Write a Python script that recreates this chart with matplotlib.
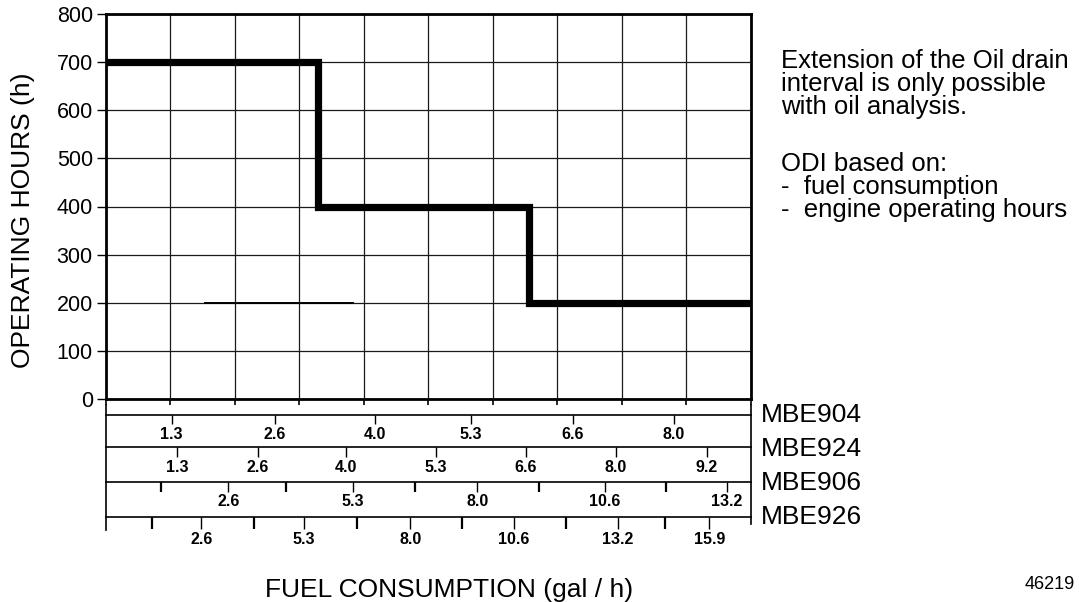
"""
Oil drain interval chart: operating hours vs fuel consumption, with
engine-specific fuel consumption scales below the grid.
"""

import matplotlib
matplotlib.use('Agg')
import matplotlib.pyplot as plt

plt.rcParams['font.family'] = ['Liberation Sans', 'DejaVu Sans']

# Step curve (x in grid columns, 0..10)
step_edges = [0, 3.29, 6.57, 10]
step_hours = [700, 400, 200]
y_ticks = list(range(0, 801, 100))

# Engine fuel consumption scales (tick position in grid columns, label)
mbe904_pos = [1.02, 2.62, 4.17, 5.66, 7.24, 8.81]
mbe904_lab = ['1.3', '2.6', '4.0', '5.3', '6.6', '8.0']

mbe924_pos = [1.10, 2.36, 3.73, 5.12, 6.51, 7.91, 9.32]
mbe924_lab = ['1.3', '2.6', '4.0', '5.3', '6.6', '8.0', '9.2']

mbe906_pos = [1.90, 3.83, 5.76, 7.74, 9.63]
mbe906_lab = ['2.6', '5.3', '8.0', '10.6', '13.2']
mbe906_minor = [0.85, 2.79, 4.79, 6.72, 8.69]

mbe926_pos = [1.48, 3.07, 4.72, 6.33, 7.94, 9.36]
mbe926_lab = ['2.6', '5.3', '8.0', '10.6', '13.2', '15.9']
mbe926_minor = [0.71, 2.29, 3.90, 5.53, 7.14, 8.67]

engines = ['MBE904', 'MBE924', 'MBE906', 'MBE926']

note_lines = ['Extension of the Oil drain',
              'interval is only possible',
              'with oil analysis.']
odi_lines = ['ODI based on:',
             '-  fuel consumption',
             '-  engine operating hours']

W, H = 1079, 602
fig = plt.figure(figsize=(W / 100, H / 100), dpi=100)

# main grid, pixel box 106..750 x 14..399
ax_left, ax_right, ax_top, ax_bot = 106, 750.5, 14, 399
ax = fig.add_axes([ax_left / W, 1 - ax_bot / H,
                   (ax_right - ax_left) / W, (ax_bot - ax_top) / H])
ax.set_xlim(0, 10)
ax.set_ylim(0, 800)
ax.set_xticks(range(11))
ax.set_yticks(y_ticks)
ax.grid(True, color='#1a1a1a', linewidth=0.9)
ax.set_axisbelow(True)
ax.tick_params(axis='x', length=4.5, width=1.2, labelbottom=False, color='black')
ax.tick_params(axis='y', length=6.5, width=1.0, labelsize=15.5, pad=3)
for sp in ax.spines.values():
    sp.set_linewidth(2.0)

# short darker segment along the 200 line
ax.plot([1.53, 3.83], [200, 200], color='black', linewidth=1.4)

ax.stairs(step_hours, step_edges, baseline=None, color='black',
          linewidth=5.2, zorder=5)

# engine scales as secondary axes below the grid
px_h = ax_bot - ax_top


def to_axes_y(ypx):
    return (ax_bot - ypx) / px_h


scales = [
    (415, mbe904_pos, mbe904_lab, None, 6.5),
    (447, mbe924_pos, mbe924_lab, None, 7.0),
    (481.5, mbe906_pos, mbe906_lab, mbe906_minor, 7.0),
    (517, mbe926_pos, mbe926_lab, mbe926_minor, 8.5),
]
for ypx, pos, lab, minor, tlen in scales:
    sec = ax.secondary_xaxis(to_axes_y(ypx), functions=(lambda x: x, lambda x: x))
    sec.set_xticks(pos, lab)
    if minor is not None:
        sec.set_xticks(minor, minor=True)
    sec.tick_params(axis='x', which='major', length=tlen, width=1.0, pad=2,
                    labelsize=11.5)
    sec.tick_params(axis='x', which='minor', length=tlen, width=1.6)
    for t in sec.get_xticklabels():
        t.set_fontweight('bold')
    for sp in sec.spines.values():
        sp.set_linewidth(1.2)

# bracket lines at both ends of the scales
xt = ax.get_xaxis_transform()
ax.plot([0, 0], [to_axes_y(405), to_axes_y(530)], transform=xt,
        color='black', linewidth=1.2, clip_on=False)
ax.plot([10, 10], [to_axes_y(405), to_axes_y(524)], transform=xt,
        color='black', linewidth=1.2, clip_on=False)

# engine names
for name, base in zip(engines, [422, 456.5, 490.5, 524]):
    fig.text(761 / W, 1 - base / H, name, fontsize=19, va='baseline', ha='left')

# notes on the right
for i, line in enumerate(note_lines):
    fig.text(781 / W, 1 - (68 + 23 * i) / H, line, fontsize=18.5, va='baseline')
for i, line in enumerate(odi_lines):
    fig.text(781 / W, 1 - (171 + 23 * i) / H, line, fontsize=18.5, va='baseline')

# axis titles and figure number
fig.text(23 / W, 1 - 220 / H, 'OPERATING HOURS (h)', fontsize=19,
         rotation=90, ha='center', va='center')
fig.text(449 / W, 1 - 597 / H, 'FUEL CONSUMPTION (gal / h)', fontsize=19,
         ha='center', va='baseline')
fig.text(1075 / W, 1 - 589 / H, '46219', fontsize=13, ha='right', va='baseline')

fig.savefig('out.png', dpi=100, facecolor='white')
